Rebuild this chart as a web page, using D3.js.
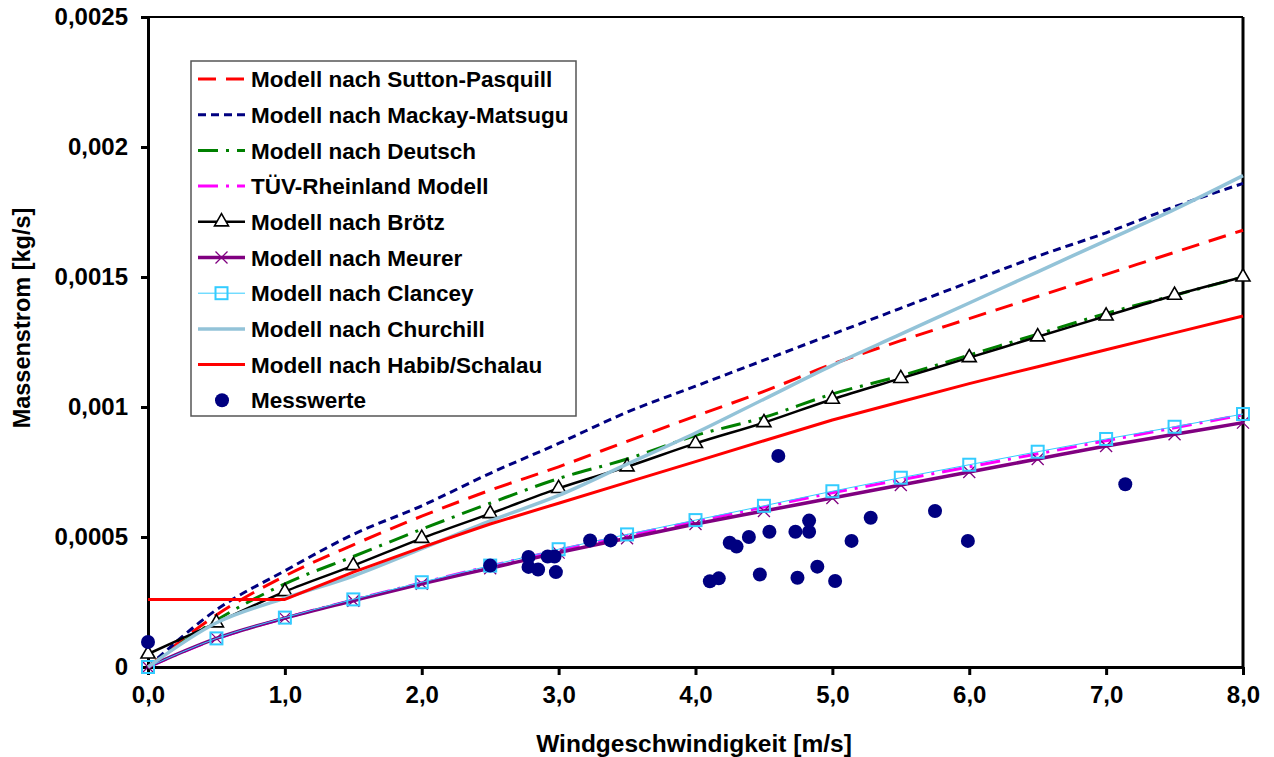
<!DOCTYPE html>
<html>
<head>
<meta charset="utf-8">
<script src="https://cdn.jsdelivr.net/npm/d3@7"></script>
<style>
  body { margin: 0; background: #fff; }
  svg { display: block; }
  text { font-family: "Liberation Sans", Arial, sans-serif; font-weight: bold; fill: #000; }
</style>
</head>
<body>
<svg id="chart" width="1274" height="757"></svg>
<script>
// Windgeschwindigkeit [m/s] for all model curves
const windSpeed = [0, 0.5, 1, 1.5, 2, 2.5, 3, 3.5, 4, 4.5, 5, 5.5, 6, 6.5, 7, 7.5, 8];

// Massenstrom [kg/s] per model
const suttonPasquill = [0, 0.0002, 0.00035, 0.00047, 0.00058, 0.00068, 0.00077, 0.000868, 0.000965, 0.00106, 0.001165, 0.001255, 0.00134, 0.001425, 0.00151, 0.001595, 0.00168];
const mackayMatsugu  = [0, 0.00022, 0.00037, 0.00051, 0.00062, 0.000745, 0.00086, 0.00098, 0.00108, 0.00118, 0.00128, 0.00138, 0.00148, 0.00158, 0.00167, 0.00177, 0.00186];
const deutsch        = [0, 0.00018, 0.00032, 0.000425, 0.00053, 0.00063, 0.000725, 0.0008, 0.00089, 0.00096, 0.00105, 0.00112, 0.0012, 0.00128, 0.00136, 0.00143, 0.0015];
const tuevRheinland  = [0, 0.000108, 0.000188, 0.000258, 0.000324, 0.000388, 0.00045, 0.000506, 0.00056, 0.000615, 0.00067, 0.00072, 0.00077, 0.00082, 0.00087, 0.00092, 0.00097];
const broetz         = [0.00005, 0.00017, 0.00029, 0.00039, 0.000495, 0.00059, 0.000687, 0.00077, 0.00086, 0.00094, 0.00103, 0.00111, 0.00119, 0.00127, 0.00135, 0.00143, 0.0015];
const meurer         = [0, 0.00011, 0.000188, 0.000255, 0.00032, 0.00038, 0.00044, 0.000495, 0.00055, 0.0006, 0.00065, 0.0007, 0.00075, 0.0008, 0.00085, 0.000895, 0.00094];
const clancey        = [0, 0.00011, 0.00019, 0.00026, 0.000326, 0.00039, 0.000453, 0.00051, 0.000565, 0.00062, 0.000676, 0.000728, 0.000778, 0.000828, 0.000877, 0.000924, 0.000973];
const churchill      = [0, 0.00017, 0.000265, 0.00035, 0.000455, 0.000562, 0.00066, 0.00078, 0.0009, 0.00103, 0.00116, 0.00128, 0.0014, 0.00152, 0.00164, 0.00176, 0.00189];
const habibSchalau   = [0.00026, 0.00026, 0.00026, 0.000365, 0.00046, 0.00055, 0.00063, 0.00071, 0.00079, 0.00087, 0.00095, 0.00102, 0.00109, 0.001155, 0.00122, 0.001285, 0.00135];

// Messwerte
const measuredWind = [0, 2.5, 2.78, 2.78, 2.85, 2.92, 2.97, 2.98, 3.23, 3.38, 4.105, 4.17, 4.25, 4.3, 4.39, 4.47, 4.54, 4.605, 4.73, 4.745, 4.83, 4.83, 4.89, 5.02, 5.14, 5.28, 5.75, 5.99, 7.14];
const measuredFlow = [0.000096, 0.00039, 0.000423, 0.000385, 0.000375, 0.000425, 0.000425, 0.000365, 0.000487, 0.000487, 0.00033, 0.000341, 0.000478, 0.000463, 0.0005, 0.000356, 0.00052, 0.000812, 0.00052, 0.000343, 0.000563, 0.00052, 0.000386, 0.000331, 0.000485, 0.000574, 0.0006, 0.000485, 0.000703];

// Axis ticks
const xTickValues = [0, 1, 2, 3, 4, 5, 6, 7, 8];
const xTickLabels = ["0,0", "1,0", "2,0", "3,0", "4,0", "5,0", "6,0", "7,0", "8,0"];
const yTickValues = [0, 0.0005, 0.001, 0.0015, 0.002, 0.0025];
const yTickLabels = ["0", "0,0005", "0,001", "0,0015", "0,002", "0,0025"];

const xTitle = "Windgeschwindigkeit [m/s]";
const yTitle = "Massenstrom [kg/s]";

const svg = d3.select("#chart");
const plotLeft = 148, plotRight = 1243, plotTop = 17, plotBottom = 667;

const x = d3.scaleLinear().domain([0, 8]).range([plotLeft, plotRight]);
const y = d3.scaleLinear().domain([0, 0.0025]).range([plotBottom, plotTop]);

// Series definitions (drawing order = legend order)
const series = [
  { name: "Modell nach Sutton-Pasquill", values: suttonPasquill, color: "#FF0000", width: 3, dash: "18,10" },
  { name: "Modell nach Mackay-Matsugu", values: mackayMatsugu, color: "#000080", width: 3, dash: "8,5" },
  { name: "Modell nach Deutsch", values: deutsch, color: "#008000", width: 3, dash: "20,8,3,8" },
  { name: "TÜV-Rheinland Modell", values: tuevRheinland, color: "#FF00FF", width: 3, dash: "20,8,3,8" },
  { name: "Modell nach Brötz", values: broetz, color: "#000000", width: 2.5, dash: null, marker: "triangle" },
  { name: "Modell nach Meurer", values: meurer, color: "#800080", width: 3.5, dash: null, marker: "cross" },
  { name: "Modell nach Clancey", values: clancey, color: "#33CCFF", width: 1, dash: null, marker: "square" },
  { name: "Modell nach Churchill", values: churchill, color: "#93C3D8", width: 3.5, dash: null },
  { name: "Modell nach Habib/Schalau", values: habibSchalau, color: "#FF0000", width: 3, dash: null, linear: true }
];

// Plot frame (top and right)
svg.append("line").attr("x1", plotLeft).attr("x2", plotRight).attr("y1", plotTop).attr("y2", plotTop)
  .attr("stroke", "#000").attr("stroke-width", 2);
svg.append("line").attr("x1", plotRight).attr("x2", plotRight).attr("y1", plotTop).attr("y2", plotBottom)
  .attr("stroke", "#000").attr("stroke-width", 3);

// Axes
const xAxis = svg.append("g").attr("transform", `translate(0,${plotBottom})`)
  .call(d3.axisBottom(x).tickValues(xTickValues).tickFormat((d, i) => xTickLabels[i])
    .tickSize(8).tickSizeOuter(0).tickPadding(11));
const yAxis = svg.append("g").attr("transform", `translate(${plotLeft},0)`)
  .call(d3.axisLeft(y).tickValues(yTickValues).tickFormat((d, i) => yTickLabels[i])
    .tickSize(7).tickSizeOuter(0).tickPadding(13));
[xAxis, yAxis].forEach(g => {
  g.select(".domain").attr("stroke", "#000").attr("stroke-width", 3);
  g.selectAll(".tick line").attr("stroke", "#000").attr("stroke-width", 3);
  g.selectAll(".tick text").style("font-size", "24px").style("font-family", "'Liberation Sans', Arial, sans-serif").style("font-weight", "bold").attr("fill", "#000");
});

svg.append("text").attr("x", 694).attr("y", 752)
  .attr("text-anchor", "middle").style("font-size", "24.5px").text(xTitle);
svg.append("text").attr("transform", "translate(30,318) rotate(-90)")
  .attr("text-anchor", "middle").style("font-size", "23.5px").text(yTitle);

// Marker drawing
const trianglePath = d3.symbol().type(d3.symbolTriangle).size(85)();
function drawMarker(g, type, cx, cy, color) {
  if (type === "triangle") {
    g.append("path").attr("d", trianglePath).attr("transform", `translate(${cx},${cy})`)
      .attr("fill", "#fff").attr("stroke", color).attr("stroke-width", 1.6);
  } else if (type === "square") {
    g.append("rect").attr("x", cx - 6).attr("y", cy - 6).attr("width", 12).attr("height", 12)
      .attr("fill", "none").attr("stroke", color).attr("stroke-width", 2);
  } else if (type === "cross") {
    g.append("path").attr("d", "M-6,-6L6,6M-6,6L6,-6").attr("transform", `translate(${cx},${cy})`)
      .attr("fill", "none").attr("stroke", color).attr("stroke-width", 1.3);
  }
}

// Lines
const smoothLine = d3.line().x((d, i) => x(windSpeed[i])).y(d => y(d)).curve(d3.curveMonotoneX);
const straightLine = d3.line().x((d, i) => x(windSpeed[i])).y(d => y(d));
const plot = svg.append("g");
series.forEach(s => {
  const g = plot.append("g");
  g.append("path").datum(s.values).attr("d", s.linear ? straightLine : smoothLine)
    .attr("fill", "none").attr("stroke", s.color).attr("stroke-width", s.width)
    .attr("stroke-dasharray", s.dash).attr("stroke-linejoin", "round");
  if (s.marker) {
    s.values.forEach((v, i) => drawMarker(g, s.marker, x(windSpeed[i]), y(v), s.color));
  }
});

// Measured points
plot.append("g").selectAll("circle").data(measuredWind).join("circle")
  .attr("cx", d => x(d)).attr("cy", (d, i) => y(measuredFlow[i])).attr("r", 7)
  .attr("fill", "#000080");

// Legend
const legend = svg.append("g");
legend.append("rect").attr("x", 191).attr("y", 61).attr("width", 385).attr("height", 355)
  .attr("fill", "#fff").attr("stroke", "#555").attr("stroke-width", 1.5);
const entries = series.map(s => s.name).concat(["Messwerte"]);
entries.forEach((name, i) => {
  const cy = 79 + i * 35.7;
  const s = series[i];
  if (s) {
    legend.append("line").attr("x1", 198).attr("x2", 245).attr("y1", cy).attr("y2", cy)
      .attr("stroke", s.color).attr("stroke-width", s.width).attr("stroke-dasharray", s.dash);
    if (s.marker) drawMarker(legend, s.marker, 221.5, cy, s.color);
  } else {
    legend.append("circle").attr("cx", 222).attr("cy", cy).attr("r", 7).attr("fill", "#000080");
  }
  legend.append("text").attr("x", 251).attr("y", cy).attr("dy", "0.36em")
    .style("font-size", "22.5px").text(name);
});
</script>
</body>
</html>
